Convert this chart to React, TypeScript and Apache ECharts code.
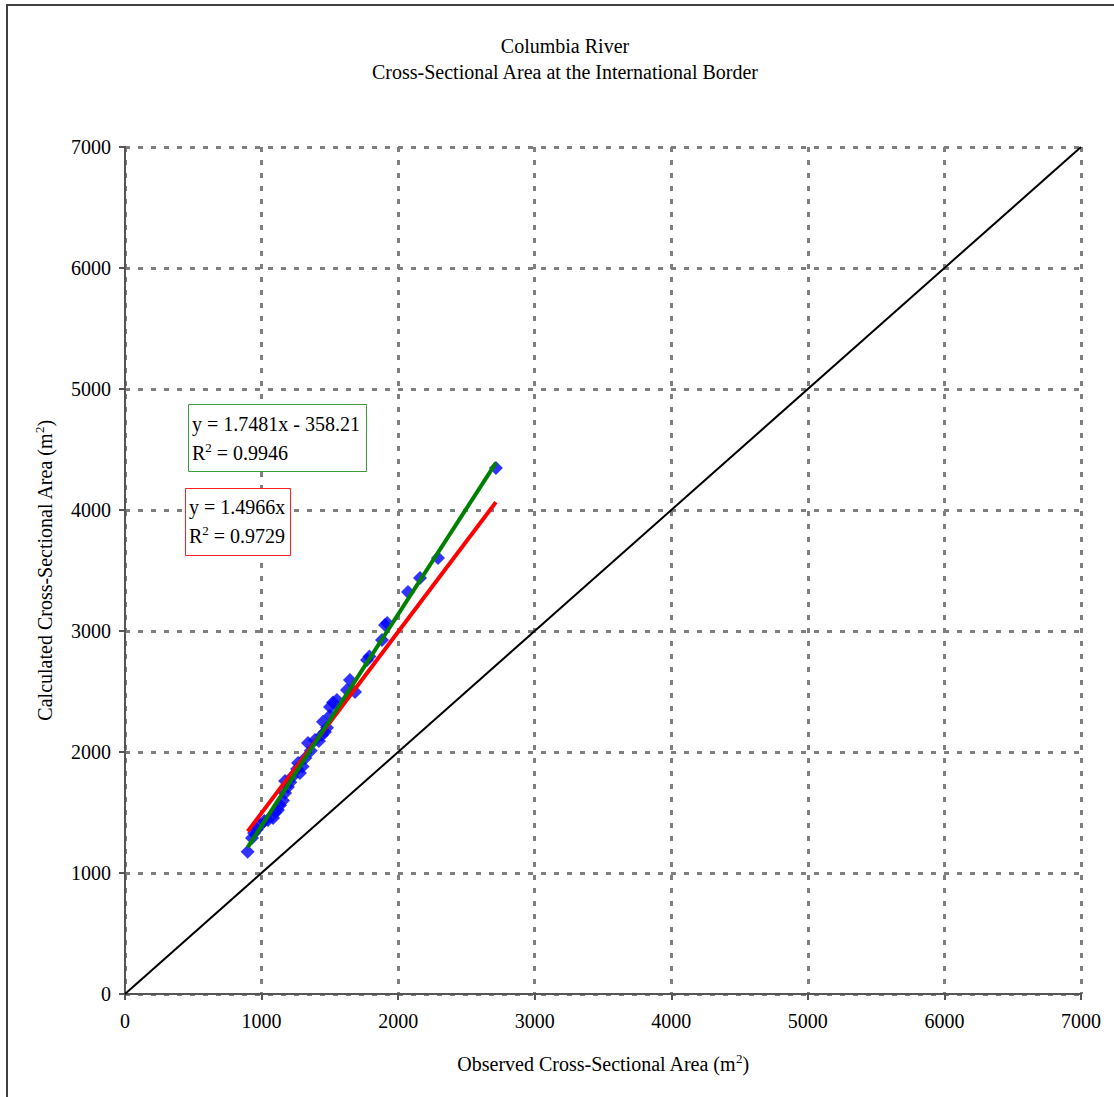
import React, { useEffect, useRef } from "react";
import * as echarts from "echarts";

const observed = [
  898, 930, 945, 965, 990, 1020, 1047, 1084, 1100, 1120, 1135, 1157, 1172, 1193, 1172, 1210,
  1223, 1260, 1281, 1267, 1300, 1320, 1340, 1360, 1391, 1420, 1442, 1464, 1450, 1479, 1501,
  1501, 1523, 1552, 1625, 1647, 1684, 1772, 1790, 1882, 1904, 1920, 2072, 2160, 2292, 2716,
];
const calculated = [
  1176, 1290, 1331, 1360, 1395, 1430, 1438, 1455, 1500, 1521, 1560, 1600, 1661, 1711, 1760, 1750,
  1793, 1860, 1826, 1909, 1880, 1950, 2074, 2010, 2099, 2090, 2140, 2165, 2250, 2200, 2300,
  2372, 2410, 2430, 2512, 2595, 2496, 2760, 2790, 2926, 3050, 3066, 3322, 3438, 3603, 4347,
];

const linearFit = { slope: 1.7481, intercept: -358.21, r2: 0.9946 };
const originFit = { slope: 1.4966, intercept: 0, r2: 0.9729 };
const oneToOne = [0, 7000];

const axisMin = 0;
const axisMax = 7000;
const axisStep = 1000;

const FONT = '"Liberation Serif", "Times New Roman", serif';

export default function App() {
  const ref = useRef<HTMLDivElement>(null);

  useEffect(() => {
    if (!ref.current) return;
    const chart = echarts.init(ref.current, null, { renderer: "svg" });
    const xMin = Math.min(...observed);
    const xMax = Math.max(...observed);
    const scatterData = observed.map((x, i) => [x, calculated[i]]);
    const greenLine = [xMin, xMax].map((x) => [x, linearFit.slope * x + linearFit.intercept]);
    const redLine = [xMin, xMax].map((x) => [x, originFit.slope * x + originFit.intercept]);

    const axisCommon = {
      type: "value",
      min: axisMin,
      max: axisMax,
      interval: axisStep,
      nameLocation: "middle",
      axisLine: { show: true, onZero: false, lineStyle: { color: "#555555", width: 2 } },
      axisTick: { show: true, inside: false, length: 6, lineStyle: { color: "#555555", width: 2 } },
      splitLine: { show: true, lineStyle: { color: "#7f7f7f", width: 3, type: [5, 8] } },
      axisLabel: {
        color: "#000",
        fontSize: 20,
        fontFamily: FONT,
        formatter: (v: number) => String(v),
      },
      nameTextStyle: {
        color: "#000",
        fontSize: 20,
        fontFamily: FONT,
        rich: {
          n: { fontSize: 20, fontFamily: FONT, color: "#000", lineHeight: 24 },
          s: { fontSize: 13, fontFamily: FONT, color: "#000", lineHeight: 24, verticalAlign: "top" },
        },
      },
    };

    const txt = (x: number, y: number, text: string, align = "left") => ({
      type: "text",
      x,
      y,
      z: 101,
      style: {
        text,
        fill: "#000",
        fontSize: 20,
        fontFamily: FONT,
        align,
        verticalAlign: "middle",
        rich: {
          n: { fontSize: 20, fontFamily: FONT, fill: "#000", lineHeight: 24 },
          s: { fontSize: 13, fontFamily: FONT, fill: "#000", lineHeight: 24, verticalAlign: "top" },
        },
      },
    });

    chart.setOption({
      animation: false,
      backgroundColor: "#ffffff",
      grid: { left: 125, top: 147, width: 956, height: 847, containLabel: false },
      xAxis: {
        ...axisCommon,
        name: "{n|Observed Cross-Sectional Area (m}{s|2}{n|)}",
        nameGap: 58,
        axisLabel: { ...axisCommon.axisLabel, margin: 17 },
      },
      yAxis: {
        ...axisCommon,
        name: "{n|Calculated Cross-Sectional Area (m}{s|2}{n|)}",
        nameGap: 68,
        nameRotate: 90,
        axisLabel: { ...axisCommon.axisLabel, margin: 14 },
      },
      graphic: [
        {
          type: "rect",
          z: 100,
          shape: { x: 7, y: 5, width: 1200, height: 1200 },
          style: { fill: "none", stroke: "#404040", lineWidth: 2 },
          silent: true,
        },
        txt(565, 46, "Columbia River", "center"),
        txt(565, 72, "Cross-Sectional Area at the International Border", "center"),
        {
          type: "rect",
          z: 100,
          shape: { x: 188.5, y: 404.5, width: 178, height: 67 },
          style: { fill: "#ffffff", stroke: "#3c9c3c", lineWidth: 1 },
        },
        txt(192, 424, `y = ${linearFit.slope}x - ${Math.abs(linearFit.intercept)}`),
        txt(192, 453, `{n|R}{s|2}{n| = ${linearFit.r2}}`),
        {
          type: "rect",
          z: 100,
          shape: { x: 185.5, y: 488.5, width: 105, height: 67 },
          style: { fill: "#ffffff", stroke: "#ff2020", lineWidth: 1 },
        },
        txt(189, 507, `y = ${originFit.slope}x`),
        txt(189, 536, `{n|R}{s|2}{n| = ${originFit.r2}}`),
      ],
      series: [
        {
          type: "line",
          data: oneToOne.map((v) => [v, v]),
          symbol: "none",
          lineStyle: { color: "#000000", width: 2 },
          z: 2,
        },
        {
          type: "scatter",
          data: scatterData,
          symbol: "diamond",
          symbolSize: [14, 14],
          itemStyle: { color: "#0000ff" },
          z: 3,
        },
        {
          type: "line",
          data: redLine,
          symbol: "none",
          lineStyle: { color: "#ff0000", width: 4 },
          z: 4,
        },
        {
          type: "line",
          data: greenLine,
          symbol: "none",
          lineStyle: { color: "#008000", width: 4 },
          z: 5,
        },
      ],
    });
    return () => chart.dispose();
  }, []);

  return (
    <div
      ref={ref}
      style={{ position: "absolute", left: 0, top: 0, width: 1114, height: 1097, background: "#fff" }}
    />
  );
}
